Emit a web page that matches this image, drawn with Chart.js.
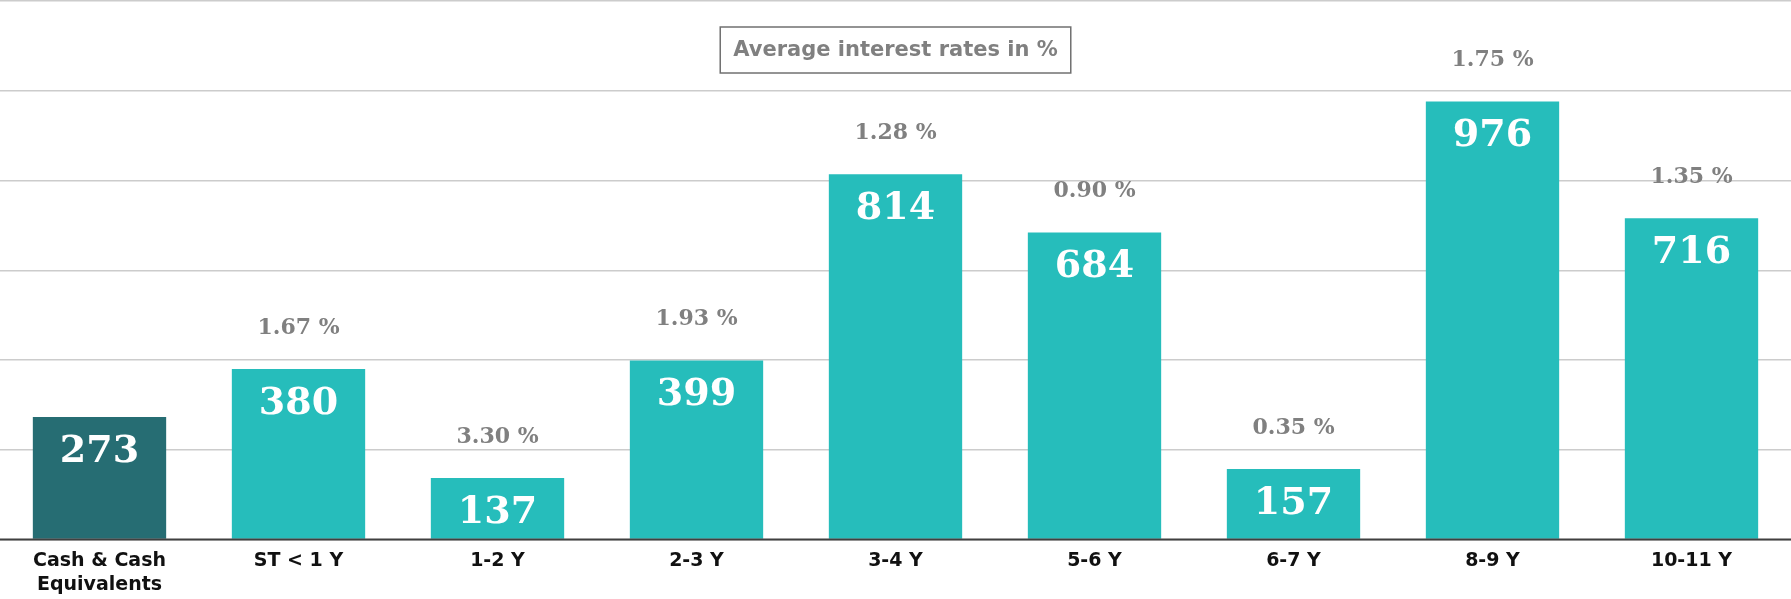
<!DOCTYPE html>
<html><head><meta charset="utf-8">
<script src="https://cdn.jsdelivr.net/npm/chart.js@4/dist/chart.umd.min.js"></script>
<style>html,body{margin:0;padding:0;background:#fff}#w{width:1791px;height:599px}</style>
</head><body><div id="w"><canvas id="c"></canvas></div>
<script>
const categories = [["Cash & Cash","Equivalents"],"ST < 1 Y","1-2 Y","2-3 Y","3-4 Y","5-6 Y","6-7 Y","8-9 Y","10-11 Y"];
const amounts = [273,380,137,399,814,684,157,976,716];
const rates = [null,"1.67 %","3.30 %","1.93 %","1.28 %","0.90 %","0.35 %","1.75 %","1.35 %"];
const titleText = "Average interest rates in %";

const labelPlugin = {
  id:'labels',
  afterDatasetsDraw(chart){
    const ctx = chart.ctx, meta = chart.getDatasetMeta(0), y = chart.scales.y, a = chart.chartArea;
    ctx.save();
    ctx.beginPath(); ctx.strokeStyle='#404040'; ctx.lineWidth=2;
    ctx.moveTo(a.left,y.getPixelForValue(0)); ctx.lineTo(a.right,y.getPixelForValue(0)); ctx.stroke();
    ctx.textAlign='center'; ctx.textBaseline='middle';
    meta.data.forEach((bar,i)=>{
      ctx.fillStyle='#ffffff'; ctx.font='bold 38px "DejaVu Serif", serif';
      ctx.fillText(String(amounts[i]), bar.x, bar.y+35);
      if(rates[i]){ ctx.fillStyle='#808080'; ctx.font='bold 22px "DejaVu Serif", serif';
        ctx.fillText(rates[i], bar.x, bar.y-41); }
    });
    ctx.font='bold 21px "DejaVu Sans", sans-serif';
    const w = ctx.measureText(titleText).width + 26, cx = (a.left+a.right)/2, cy = 50;
    ctx.fillStyle='#fff'; ctx.fillRect(cx-w/2, cy-23, w, 46);
    ctx.strokeStyle='#707070'; ctx.lineWidth=1.5; ctx.strokeRect(cx-w/2, cy-23, w, 46);
    ctx.fillStyle='#808080'; ctx.fillText(titleText, cx, cy+1);
    ctx.restore();
  }
};

new Chart(document.getElementById('c'),{
  type:'bar',
  data:{labels:categories,datasets:[{data:amounts,
    backgroundColor:amounts.map((v,i)=>i===0?'#266d73':'#26bdbb'),
    categoryPercentage:0.67,barPercentage:1}]},
  options:{responsive:true,maintainAspectRatio:false,animation:false,
    layout:{padding:{top:1,left:0,right:0,bottom:0}},
    plugins:{legend:{display:false},tooltip:{enabled:false}},
    scales:{
      x:{grid:{display:false},border:{display:false},
         ticks:{color:'#111',font:{family:'"DejaVu Sans", sans-serif',weight:'bold',size:19,lineHeight:1.25},padding:2,maxRotation:0,autoSkip:false}},
      y:{min:0,max:1200,ticks:{display:false,stepSize:200},border:{display:false},
         grid:{color:'#cccccc',lineWidth:1.5,drawTicks:false}}
    }},
  plugins:[labelPlugin]
});
</script></body></html>
